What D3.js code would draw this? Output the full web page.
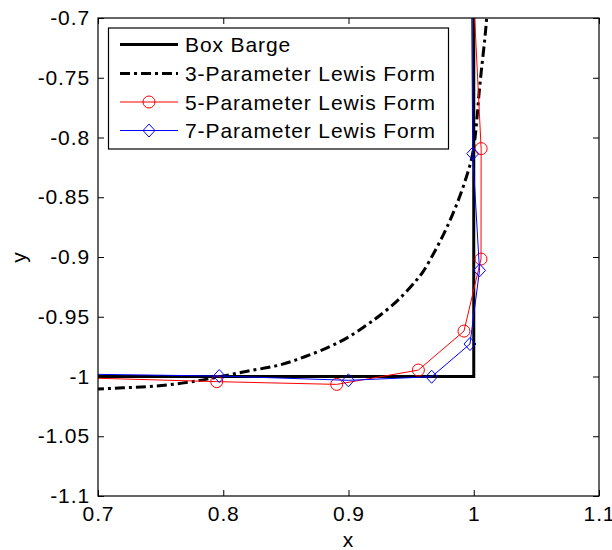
<!DOCTYPE html>
<html><head><meta charset="utf-8">
<script src="https://cdn.jsdelivr.net/npm/d3@7"></script>
<style>body{margin:0;background:#fff}svg{display:block}text{font-family:"Liberation Sans",Arial,sans-serif;letter-spacing:0.9px}</style>
</head><body>
<svg id="c" width="612" height="550"></svg>
<script>
// ---- data ----
const xTicks = [0.7, 0.8, 0.9, 1.0, 1.1];
const yTicks = [-0.7, -0.75, -0.8, -0.85, -0.9, -0.95, -1, -1.05, -1.1];
const xTickLabels = ["0.7", "0.8", "0.9", "1", "1.1"];
const yTickLabels = ["-0.7", "-0.75", "-0.8", "-0.85", "-0.9", "-0.95", "-1", "-1.05", "-1.1"];
const seriesNames = ["Box Barge", "3-Parameter Lewis Form", "5-Parameter Lewis Form", "7-Parameter Lewis Form"];

const boxX = [0.6, 1.0, 1.0];
const boxY = [-1.0, -1.0, -0.6];

const lewis3X = [0.68, 0.70, 0.72, 0.74, 0.76, 0.78, 0.797, 0.82, 0.845, 0.865, 0.885, 0.90, 0.915, 0.925, 0.941, 0.9544, 0.9597, 0.9703, 0.9783, 0.9863, 0.993, 0.9984, 1.001, 1.0028, 1.0044, 1.0063, 1.0089, 1.0103, 1.0115];
const lewis3Y = [-1.0112, -1.0105, -1.0095, -1.0085, -1.0065, -1.0035, -1.0002, -0.9954, -0.9904, -0.9835, -0.975, -0.967, -0.9565, -0.949, -0.9346, -0.9192, -0.912, -0.8925, -0.8757, -0.8562, -0.8367, -0.8172, -0.8004, -0.781, -0.7613, -0.7418, -0.7167, -0.70, -0.68];

const lewis5X = [0.65, 0.7948, 0.8906, 0.9558, 0.9922, 1.0058, 1.0059, 0.996];
const lewis5Y = [-1.0, -1.0043, -1.0066, -0.9946, -0.9620, -0.9017, -0.8093, -0.6];

const lewis7X = [0.65, 0.7968, 0.8999, 0.9664, 0.9970, 1.0046, 0.9992, 0.9977];
const lewis7Y = [-0.9975, -0.9996, -1.0032, -1.0002, -0.9728, -0.9112, -0.8135, -0.6];

// ---- layout ----
const L = 98, R = 599, T = 18, B = 496;
const svg = d3.select("#c");
const x = d3.scaleLinear().domain([0.7, 1.1]).range([L, R]);
const y = d3.scaleLinear().domain([-1.1, -0.7]).range([B, T]);

svg.append("defs").append("clipPath").attr("id", "clip")
  .append("rect").attr("x", L).attr("y", T).attr("width", R - L).attr("height", B - T);

const fs = 21;
function styleAxis(g) {
  g.select(".domain").remove();
  g.selectAll(".tick line").attr("stroke", "#000").attr("stroke-width", 1);
  g.selectAll("text").attr("font-size", fs).attr("fill", "#000");
}
const tl = 6;
svg.append("g").attr("transform", `translate(0,${B})`)
  .call(d3.axisBottom(x).tickValues(xTicks).tickFormat((d, i) => xTickLabels[i]).tickSizeInner(-tl).tickSizeOuter(0).tickPadding(10))
  .call(styleAxis);
svg.append("g").attr("transform", `translate(0,${T})`)
  .call(d3.axisTop(x).tickValues(xTicks).tickFormat("").tickSizeInner(-tl).tickSizeOuter(0))
  .call(styleAxis);
svg.append("g").attr("transform", `translate(${L},0)`)
  .call(d3.axisLeft(y).tickValues(yTicks).tickFormat((d, i) => yTickLabels[i]).tickSizeInner(-tl).tickSizeOuter(0).tickPadding(8))
  .call(styleAxis);
svg.append("g").attr("transform", `translate(${R},0)`)
  .call(d3.axisRight(y).tickValues(yTicks).tickFormat("").tickSizeInner(-tl).tickSizeOuter(0))
  .call(styleAxis);

// data
const plot = svg.append("g").attr("clip-path", "url(#clip)");
const line = d3.line().x(d => x(d[0])).y(d => y(d[1]));
const smooth = d3.line().x(d => x(d[0])).y(d => y(d[1])).curve(d3.curveCatmullRom.alpha(0.5));
const zip = (a, b) => a.map((v, i) => [v, b[i]]);

plot.append("path").datum(zip(boxX, boxY)).attr("d", line)
  .attr("fill", "none").attr("stroke", "#000").attr("stroke-width", 3);
plot.append("path").datum(zip(lewis3X, lewis3Y)).attr("d", smooth)
  .attr("fill", "none").attr("stroke", "#000").attr("stroke-width", 3).attr("stroke-dasharray", "10,4,3,4");
const p5 = zip(lewis5X, lewis5Y), p7 = zip(lewis7X, lewis7Y);
plot.append("path").datum(p5).attr("d", line)
  .attr("fill", "none").attr("stroke", "#ff0000").attr("stroke-width", 1);
plot.selectAll("circle.m5").data(p5).enter().append("circle").attr("class", "m5")
  .attr("cx", d => x(d[0])).attr("cy", d => y(d[1])).attr("r", 6)
  .attr("fill", "none").attr("stroke", "#ff0000").attr("stroke-width", 1);
plot.append("path").datum(p7).attr("d", line)
  .attr("fill", "none").attr("stroke", "#0000ff").attr("stroke-width", 1);
const diamond = (cx, cy) => `M${cx},${cy - 6.5}L${cx + 6},${cy}L${cx},${cy + 6.5}L${cx - 6},${cy}Z`;
plot.selectAll("path.m7").data(p7).enter().append("path").attr("class", "m7")
  .attr("d", d => diamond(x(d[0]), y(d[1])))
  .attr("fill", "none").attr("stroke", "#0000ff").attr("stroke-width", 1);

// frame
svg.append("rect").attr("x", L).attr("y", T).attr("width", R - L).attr("height", B - T)
  .attr("fill", "none").attr("stroke", "#000").attr("stroke-width", 1.2);

// axis labels
svg.append("text").attr("x", (L + R) / 2).attr("y", 547).attr("text-anchor", "middle").attr("font-size", fs).text("x");
svg.append("text").attr("transform", `translate(26,${(T + B) / 2}) rotate(-90)`).attr("text-anchor", "middle").attr("font-size", fs).text("y");

// legend
const lg = svg.append("g");
lg.append("rect").attr("x", 108.5).attr("y", 28).attr("width", 340).attr("height", 121)
  .attr("fill", "#fff").attr("stroke", "#000").attr("stroke-width", 1.2);
const rowY = [44.5, 73.5, 102, 130.5];
const lx0 = 120, lx1 = 178, lmid = 149;
const styles = [
  {c: "#000", w: 3, dash: null},
  {c: "#000", w: 3, dash: "10,4,3,4"},
  {c: "#ff0000", w: 1, dash: null},
  {c: "#0000ff", w: 1, dash: null}
];
seriesNames.forEach((n, i) => {
  const s = styles[i];
  const ln = lg.append("line").attr("x1", lx0).attr("x2", lx1).attr("y1", rowY[i]).attr("y2", rowY[i])
    .attr("stroke", s.c).attr("stroke-width", s.w);
  if (s.dash) ln.attr("stroke-dasharray", s.dash);
  if (i === 2) lg.append("circle").attr("cx", lmid).attr("cy", rowY[i]).attr("r", 6).attr("fill", "none").attr("stroke", s.c);
  if (i === 3) lg.append("path").attr("d", diamond(lmid, rowY[i])).attr("fill", "none").attr("stroke", s.c);
  lg.append("text").attr("x", 185).attr("y", rowY[i] + 7.5).attr("font-size", fs).text(n);
});
</script>
</body></html>
